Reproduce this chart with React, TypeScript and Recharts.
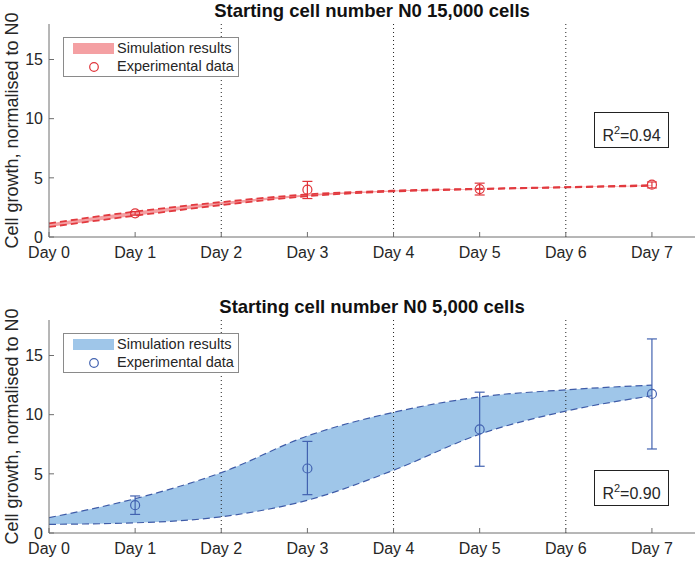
import React from "react";
import {
  ComposedChart, Area, Line, Scatter, ErrorBar, XAxis, YAxis, ReferenceLine
} from "recharts";

// x: days, y: growth normalised to N0
const days = [0, 1, 2, 3, 4, 5, 6, 7];
const dayTicks = ["Day 0", "Day 1", "Day 2", "Day 3", "Day 4", "Day 5", "Day 6", "Day 7"];
const yTicks = [0, 5, 10, 15];
const gridDays = [2, 4, 6];

// N0 = 15,000 cells
const topUpper = [1.15, 2.15, 2.95, 3.6, 3.92, 4.08, 4.22, 4.38];
const topLower = [0.85, 1.8, 2.7, 3.45, 3.85, 4.04, 4.19, 4.32];
const topExpDays = [1, 3, 5, 7];
const topExpMean = [2.0, 4.0, 4.05, 4.42];
const topExpLow = [1.85, 3.25, 3.55, 4.15];
const topExpHigh = [2.15, 4.7, 4.55, 4.65];

// N0 = 5,000 cells
const botUpper = [1.3, 2.9, 5.1, 8.2, 10.2, 11.5, 12.1, 12.5];
const botLower = [0.73, 0.86, 1.37, 2.77, 5.3, 8.35, 10.3, 11.6];
const botExpDays = [1, 3, 5, 7];
const botExpMean = [2.35, 5.45, 8.75, 11.75];
const botExpLow = [1.57, 3.24, 5.64, 7.1];
const botExpHigh = [3.13, 7.74, 11.9, 16.4];

const FONT = "'Liberation Sans', Arial, Helvetica, sans-serif";
const TXT = "#262626";
const AX = "#6e6e6e";

function buildBand(upper: number[], lower: number[]) {
  return days.map((d, i) => ({ day: d, band: [lower[i], upper[i]], hi: upper[i], lo: lower[i] }));
}

function buildExp(ds: number[], mean: number[], low: number[], high: number[]) {
  return ds.map((d, i) => ({ day: d, v: mean[i], err: [mean[i] - low[i], high[i] - mean[i]] }));
}

interface PanelProps {
  title: string;
  r2: string;
  band: any[];
  exp: any[];
  fill: string;
  line: string;
  marker: string;
  lineWidth: number;
  height: number;
  top: number;
  bottom: number;
  r2Top: number;
}

function Panel({ title, r2, band, exp, fill, line, marker, lineWidth, height, top, bottom, r2Top }: PanelProps) {
  const tickStyle = { fontSize: 16, fill: TXT, fontFamily: FONT };
  return (
    <div style={{ position: "relative", width: 698, height }}>
      <ComposedChart width={698} height={height} data={band} margin={{ top, right: 3, bottom, left: 19 }}>
        <XAxis
          dataKey="day" type="number" domain={[0, 7.5]} ticks={days}
          tickFormatter={(v: number) => dayTicks[v]}
          tick={tickStyle} tickSize={-5} tickMargin={15} height={25}
          stroke={AX} interval={0}
        />
        <XAxis xAxisId="top" orientation="top" type="number" domain={[0, 7.5]} ticks={days}
          tick={false} tickSize={-5} height={0} stroke={AX} />
        <YAxis
          type="number" domain={[0, 18]} ticks={yTicks} tick={tickStyle}
          tickSize={-5} tickMargin={11} width={30} stroke={AX}
          label={{ value: "Cell growth, normalised to N0", angle: -90, position: "insideLeft", offset: -7, style: { textAnchor: "middle", fontSize: 18, fill: TXT, fontFamily: FONT } }}
        />
        <YAxis yAxisId="right" orientation="right" type="number" domain={[0, 18]} ticks={yTicks}
          tick={false} tickSize={-5} width={0} stroke={AX} />
        {gridDays.map(d => (
          <ReferenceLine key={d} x={d} stroke="#222" strokeDasharray="1 3" strokeWidth={1} />
        ))}
        <Area dataKey="band" type="monotone" fill={fill} fillOpacity={1} stroke="none" isAnimationActive={false} />
        <Line dataKey="hi" type="monotone" stroke={line} strokeWidth={lineWidth} strokeDasharray="7 4" dot={false} isAnimationActive={false} />
        <Line dataKey="lo" type="monotone" stroke={line} strokeWidth={lineWidth} strokeDasharray="7 4" dot={false} isAnimationActive={false} />
        <Scatter
          data={exp} dataKey="v" isAnimationActive={false}
          shape={(p: any) => <circle cx={p.cx} cy={p.cy} r={4.5} fill="none" stroke={marker} strokeWidth={1.2} />}
        >
          <ErrorBar dataKey="err" direction="y" width={5} stroke={marker} strokeWidth={1.2} />
        </Scatter>
      </ComposedChart>

      <div style={{ position: "absolute", left: 49, width: 646, top: top - 24, textAlign: "center", fontSize: 18.5, fontWeight: 700, color: "#111", lineHeight: "22px" }}>
        {title}
      </div>

      {/* legend */}
      <div style={{ position: "absolute", left: 63, top: top + 13, width: 174, height: 38, border: "1px solid #8a8a8a", background: "#fff", fontSize: 14.5, color: TXT, fontFamily: FONT }}>
        <div style={{ position: "absolute", left: 9, top: 5, width: 41, height: 11, background: fill }} />
        <div style={{ position: "absolute", left: 53, top: 2, lineHeight: "17px" }}>Simulation results</div>
        <svg style={{ position: "absolute", left: 24, top: 23 }} width={12} height={12}>
          <circle cx={6} cy={6} r={4.3} fill="none" stroke={marker} strokeWidth={1.2} />
        </svg>
        <div style={{ position: "absolute", left: 53, top: 20, lineHeight: "17px" }}>Experimental data</div>
      </div>

      {/* R squared */}
      <div style={{ position: "absolute", left: 594, top: r2Top, width: 73, height: 34, border: "1px solid #222", background: "#fff", fontSize: 16, color: TXT, fontFamily: FONT, textAlign: "center", lineHeight: "36px" }}>
        R<sup style={{ fontSize: 11, position: "relative", top: -1 }}>2</sup>=0.{r2}
      </div>
    </div>
  );
}

export default function App() {
  return (
    <div style={{ position: "absolute", left: 0, top: 0, width: 698, height: 561, background: "#fff", fontFamily: FONT, overflow: "hidden" }}>
      <Panel
        title="Starting cell number N0 15,000 cells" r2="94"
        band={buildBand(topUpper, topLower)}
        exp={buildExp(topExpDays, topExpMean, topExpLow, topExpHigh)}
        fill="#f4a0a3" line="#e23a3f" marker="#e0343a" lineWidth={1.8}
        height={270} top={24} bottom={8} r2Top={112}
      />
      <Panel
        title="Starting cell number N0 5,000 cells" r2="90"
        band={buildBand(botUpper, botLower)}
        exp={buildExp(botExpDays, botExpMean, botExpLow, botExpHigh)}
        fill="#9fc6e9" line="#3f5ca8" marker="#4262b0" lineWidth={1.2}
        height={291} top={50} bottom={3} r2Top={200}
      />
    </div>
  );
}
